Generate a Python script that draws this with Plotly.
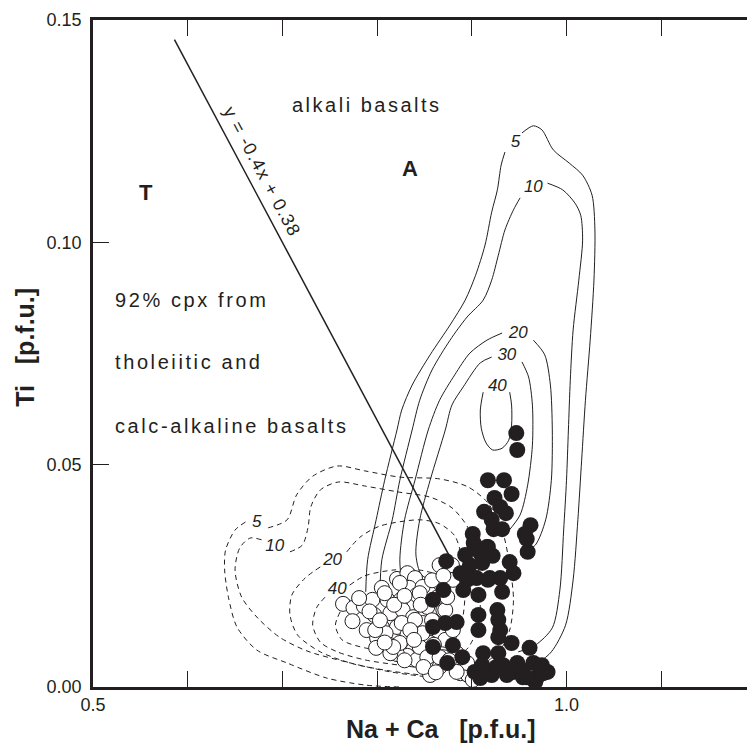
import plotly.graph_objects as go

INK = "#231f20"
FONT = "Liberation Sans, Arial, Helvetica, sans-serif"

# ---- Cpx from tholeiitic / calc-alkaline basalts (open circles) ----
thol_x = [0.764, 0.775, 0.774, 0.786, 0.795, 0.797, 0.805, 0.811, 0.821, 0.832,
          0.840, 0.834, 0.848, 0.825, 0.842, 0.864, 0.814, 0.827, 0.838, 0.851,
          0.870, 0.789, 0.805, 0.821, 0.835, 0.848, 0.800, 0.809, 0.832, 0.842,
          0.866, 0.814, 0.827, 0.838, 0.856, 0.799, 0.832, 0.842, 0.874, 0.870,
          0.884, 0.821, 0.845, 0.866, 0.866, 0.879, 0.808, 0.824, 0.845, 0.872,
          0.826, 0.840, 0.848, 0.824, 0.853, 0.872, 0.884, 0.888, 0.896, 0.866,
          0.814, 0.874, 0.880, 0.853, 0.880, 0.866, 0.880, 0.895, 0.884, 0.901,
          0.817, 0.835, 0.798, 0.856, 0.839, 0.781, 0.792, 0.803, 0.818, 0.829,
          0.846, 0.858, 0.860, 0.849, 0.862, 0.876, 0.829, 0.808, 0.858, 0.870]
thol_y = [0.0187, 0.0178, 0.0148, 0.0182, 0.0196, 0.0162, 0.0223, 0.0196, 0.0243, 0.0256,
          0.0245, 0.0223, 0.0225, 0.0196, 0.0207, 0.0202, 0.0166, 0.0173, 0.0157, 0.0173,
          0.0173, 0.0128, 0.0135, 0.0135, 0.0135, 0.0144, 0.0110, 0.0121, 0.0117, 0.0112,
          0.0121, 0.0094, 0.0090, 0.0083, 0.0099, 0.0088, 0.0070, 0.0061, 0.0090, 0.0067,
          0.0076, 0.0074, 0.0090, 0.0234, 0.0274, 0.0274, 0.0211, 0.0234, 0.0211, 0.0173,
          0.0144, 0.0151, 0.0121, 0.0099, 0.0067, 0.0106, 0.0045, 0.0031, 0.0027, 0.0045,
          0.0076, 0.0202, 0.0241, 0.0180, 0.0128, 0.0067, 0.0061, 0.0054, 0.0034, 0.0016,
          0.0090, 0.0128, 0.0128, 0.0027, 0.0106, 0.0200, 0.0170, 0.0150, 0.0185, 0.0205,
          0.0185, 0.0150, 0.0095, 0.0045, 0.0033, 0.0060, 0.0060, 0.0100, 0.0240, 0.0250]

# ---- Cpx from alkali basalts (filled circles) ----
alk_x = [0.947, 0.948, 0.917, 0.934, 0.942, 0.924, 0.930, 0.936, 0.913, 0.921,
         0.923, 0.932, 0.962, 0.956, 0.958, 0.959, 0.901, 0.902, 0.917, 0.909,
         0.922, 0.893, 0.873, 0.903, 0.916, 0.898, 0.911, 0.940, 0.944, 0.888,
         0.895, 0.905, 0.919, 0.930, 0.891, 0.907, 0.932, 0.870, 0.859, 0.927,
         0.928, 0.907, 0.859, 0.872, 0.884, 0.907, 0.930, 0.859, 0.880, 0.890,
         0.912, 0.928, 0.942, 0.961, 0.903, 0.921, 0.911, 0.933, 0.948, 0.953,
         0.965, 0.974, 0.980, 0.969, 0.967, 0.944, 0.954, 0.975, 0.874, 0.926,
         0.909, 0.958, 0.937, 0.928, 0.917]
alk_y = [0.0571, 0.0533, 0.0465, 0.0465, 0.0434, 0.0425, 0.0405, 0.0391, 0.0394, 0.0376,
         0.0355, 0.0355, 0.0364, 0.0344, 0.0333, 0.0304, 0.0344, 0.0324, 0.0315, 0.0301,
         0.0295, 0.0297, 0.0283, 0.0315, 0.0315, 0.0274, 0.0279, 0.0281, 0.0256, 0.0256,
         0.0241, 0.0245, 0.0245, 0.0245, 0.0218, 0.0207, 0.0214, 0.0218, 0.0196, 0.0173,
         0.0151, 0.0162, 0.0135, 0.0144, 0.0146, 0.0128, 0.0128, 0.0090, 0.0094, 0.0067,
         0.0076, 0.0076, 0.0099, 0.0088, 0.0034, 0.0027, 0.0049, 0.0049, 0.0054, 0.0038,
         0.0054, 0.0049, 0.0034, 0.0022, 0.0011, 0.0034, 0.0022, 0.0031, 0.0054, 0.0045,
         0.0020, 0.0022, 0.0027, 0.0112, 0.0241]

# ---- discriminant line y = -0.4x + 0.38 ----
line_slope = -0.4
line_icept = 0.38
line_x = [0.586, 0.877]
line_y = [line_slope * v + line_icept for v in line_x]

# ---- density contours, alkali basalt cpx (solid) ----
alk5_x = [0.788, 0.790, 0.799, 0.808, 0.821, 0.826, 0.837, 0.856, 0.877, 0.893, 0.904, 0.914, 0.921, 0.927, 0.931, 0.935, None,
          0.953, 0.965, 0.974, 0.986, 1.003, 1.017, 1.027, 1.030, 1.029, 1.025, 1.020, 1.016, 1.012, 1.007, 0.999, 0.984, 0.967]
alk5_y = [0.0214, 0.0286, 0.0376, 0.0465, 0.0578, 0.0623, 0.0679, 0.0747, 0.0814, 0.0870, 0.0926, 0.0994, 0.1068, 0.1118, 0.1174, 0.1203, None,
          0.1246, 0.1262, 0.1253, 0.1208, 0.1178, 0.1151, 0.1106, 0.1028, 0.0915, 0.0780, 0.0645, 0.0510, 0.0376, 0.0241, 0.0139, 0.0079, 0.0049]
alk10_x = [0.803, 0.805, 0.816, 0.824, 0.837, 0.845, 0.858, 0.877, 0.895, 0.912, 0.921, 0.928, 0.935, 0.944, 0.951, None,
           0.980, 0.996, 1.009, 1.015, 1.017, 1.013, 1.007, 1.004, 1.002, 1.000, 0.997, 0.993, 0.985, 0.967, 0.949]
alk10_y = [0.0214, 0.0286, 0.0376, 0.0465, 0.0578, 0.0645, 0.0713, 0.0780, 0.0832, 0.0870, 0.0915, 0.0971, 0.1028, 0.1073, 0.1100, None,
           0.1133, 0.1118, 0.1088, 0.1061, 0.1005, 0.0915, 0.0803, 0.0690, 0.0578, 0.0465, 0.0353, 0.0218, 0.0133, 0.0094, 0.0079]
alk20_x = [0.827, 0.824, 0.829, 0.840, 0.854, 0.866, 0.882, 0.898, 0.916, 0.932, None,
           0.965, 0.977, 0.983, 0.985, 0.984, 0.978, 0.967, 0.951]
alk20_y = [0.0218, 0.0286, 0.0376, 0.0465, 0.0578, 0.0645, 0.0702, 0.0751, 0.0780, 0.0796, None,
           0.0780, 0.0747, 0.0679, 0.0578, 0.0465, 0.0376, 0.0319, 0.0297]
alk30_x = [0.866, 0.847, 0.841, 0.845, 0.856, 0.872, 0.879, 0.891, 0.909, 0.921, None,
           0.953, 0.960, 0.964, 0.964, 0.959, 0.951, 0.938]
alk30_y = [0.0234, 0.0252, 0.0297, 0.0376, 0.0465, 0.0578, 0.0634, 0.0675, 0.0729, 0.0742, None,
           0.0731, 0.0697, 0.0634, 0.0544, 0.0454, 0.0387, 0.0349]
alk40_x = [0.940, 0.942, 0.942, 0.939, 0.932, 0.922, 0.915, 0.910, 0.909, 0.912]
alk40_y = [0.0663, 0.0634, 0.0589, 0.0555, 0.0537, 0.0533, 0.0549, 0.0582, 0.0623, 0.0663]

# ---- density contours, tholeiitic / calc-alkaline cpx (dashed) ----
thol5_x = [0.661, 0.650, 0.640, 0.639, 0.643, 0.652, 0.673, 0.705, 0.747, 0.789, 0.824, None,
           0.685, 0.705, 0.715, 0.732, 0.758, 0.787, 0.824, 0.866, 0.896, 0.917, 0.932, 0.940, 0.944, 0.940, 0.930, 0.911]
thol5_y = [0.0371, 0.0353, 0.0308, 0.0263, 0.0202, 0.0135, 0.0083, 0.0054, 0.0020, 0.0004, 0.0000, None,
           0.0358, 0.0376, 0.0432, 0.0474, 0.0497, 0.0486, 0.0472, 0.0468, 0.0450, 0.0414, 0.0353, 0.0274, 0.0196, 0.0128, 0.0083, 0.0049]
thol10_x = [0.678, 0.666, 0.655, 0.650, 0.657, 0.674, 0.697, 0.726, 0.768, 0.814, 0.856, None,
            0.708, 0.721, 0.727, 0.730, 0.740, 0.759, 0.787, 0.824, 0.856, 0.879, 0.896, 0.905, 0.909, 0.907, 0.896, 0.877]
thol10_y = [0.0331, 0.0335, 0.0313, 0.0263, 0.0202, 0.0155, 0.0112, 0.0081, 0.0056, 0.0034, 0.0022, None,
            0.0304, 0.0319, 0.0358, 0.0405, 0.0443, 0.0461, 0.0452, 0.0438, 0.0427, 0.0403, 0.0358, 0.0290, 0.0207, 0.0139, 0.0088, 0.0056]
thol20_x = [0.740, 0.724, 0.710, 0.708, 0.716, 0.740, 0.775, 0.814, 0.866, None,
            0.768, 0.782, 0.803, 0.845, 0.866, 0.882, 0.890, 0.893, 0.890, 0.882, 0.866]
thol20_y = [0.0270, 0.0245, 0.0207, 0.0162, 0.0117, 0.0079, 0.0052, 0.0036, 0.0022, None,
            0.0304, 0.0337, 0.0362, 0.0376, 0.0367, 0.0340, 0.0286, 0.0218, 0.0151, 0.0106, 0.0072]
thol40_x = [0.745, 0.736, 0.732, 0.740, 0.758, 0.787, 0.824, 0.866, None,
            0.771, 0.787, 0.817, 0.845, 0.866]
thol40_y = [0.0202, 0.0178, 0.0139, 0.0101, 0.0079, 0.0061, 0.0049, 0.0038, None,
            0.0229, 0.0250, 0.0263, 0.0263, 0.0252]
thol60_x = [0.761, 0.756, 0.763, 0.787, 0.824]
thol60_y = [0.0169, 0.0139, 0.0106, 0.0088, 0.0079]

# ---- contour labels ----
alk_lab_x = [0.946, 0.965, 0.949, 0.937, 0.927]
alk_lab_y = [0.1223, 0.1122, 0.0794, 0.0744, 0.0675]
alk_lab_t = ["5", "10", "20", "30", "40"]
thol_lab_x = [0.673, 0.692, 0.753, 0.758, 0.772]
thol_lab_y = [0.0369, 0.0315, 0.0283, 0.0218, 0.0180]
thol_lab_t = ["5", "10", "20", "40", "60"]

# ---- axes ----
x_tickvals = [0.5, 0.6, 0.7, 0.8, 0.9, 1.0, 1.1]
x_ticktext = ["0.5", "", "", "", "", "1.0", ""]
y_tickvals = [0.0, 0.05, 0.10, 0.15]
y_ticktext = ["0.00", "0.05", "0.10", "0.15"]
x_range = [0.5, 1.1906]
y_range = [0.0, 0.15]

fig = go.Figure()

solid = dict(color=INK, width=1)
dashed = dict(color=INK, width=1, dash="5px,4px")
for cx, cy in [(alk5_x, alk5_y), (alk10_x, alk10_y), (alk20_x, alk20_y),
               (alk30_x, alk30_y), (alk40_x, alk40_y)]:
    fig.add_trace(go.Scatter(x=cx, y=cy, mode="lines", line=dict(solid, shape="spline", smoothing=0.8),
                             hoverinfo="skip", connectgaps=False))
for cx, cy in [(thol5_x, thol5_y), (thol10_x, thol10_y), (thol20_x, thol20_y),
               (thol40_x, thol40_y), (thol60_x, thol60_y)]:
    fig.add_trace(go.Scatter(x=cx, y=cy, mode="lines", line=dict(dashed, shape="spline", smoothing=0.8),
                             hoverinfo="skip", connectgaps=False))

labfont = dict(family=FONT, size=17, color=INK, style="italic")
fig.add_trace(go.Scatter(x=alk_lab_x, y=alk_lab_y, text=alk_lab_t, mode="text",
                         textfont=labfont, hoverinfo="skip"))
fig.add_trace(go.Scatter(x=thol_lab_x, y=thol_lab_y, text=thol_lab_t, mode="text",
                         textfont=labfont, hoverinfo="skip"))

fig.add_trace(go.Scatter(x=line_x, y=line_y, mode="lines",
                         line=dict(color=INK, width=1.5), hoverinfo="skip"))

fig.add_trace(go.Scatter(x=thol_x, y=thol_y, mode="markers", cliponaxis=False,
                         marker=dict(size=15, color="white", line=dict(color=INK, width=1))))
fig.add_trace(go.Scatter(x=alk_x, y=alk_y, mode="markers", cliponaxis=False,
                         marker=dict(size=16, color=INK, line=dict(width=0))))


def spaced(t, ls):
    return '<span style="letter-spacing:%spx">%s</span>' % (ls, t)


body = dict(family=FONT, size=20, color=INK)
bold = dict(family=FONT, size=22, color=INK, weight="bold")
ann = [
    dict(x=0.789, y=0.1309, text=spaced("alkali basalts", 2.5), xanchor="center", font=body),
    dict(x=0.835, y=0.1167, text="A", xanchor="center", font=bold),
    dict(x=0.556, y=0.1113, text="T", xanchor="center", font=bold),
    dict(x=0.521, y=0.0870, text=spaced("92% cpx from", 2.6), xanchor="left", font=body),
    dict(x=0.521, y=0.0731, text=spaced("tholeiitic and", 2.6), xanchor="left", font=body),
    dict(x=0.521, y=0.0587, text=spaced("calc-alkaline basalts", 2.6), xanchor="left", font=body),
    dict(x=0.678, y=0.1160, text=spaced("y = -0.4x + 0.38", 1.2), textangle=62, xanchor="center",
         font=dict(family=FONT, size=18, color=INK)),
]
for a in ann:
    a.update(xref="x", yref="y", showarrow=False, yanchor="middle")

ann += [
    dict(xref="paper", yref="paper", x=0.532, y=-0.063, text="Na + Ca   [p.f.u.]",
         showarrow=False, xanchor="center", yanchor="middle",
         font=dict(family=FONT, size=25, color=INK, weight="bold")),
    dict(xref="paper", yref="paper", x=-0.104, y=0.510, text="Ti   [p.f.u.]", textangle=-90,
         showarrow=False, xanchor="center", yanchor="middle",
         font=dict(family=FONT, size=25, color=INK, weight="bold")),
]

axis_common = dict(showline=True, linewidth=2.5, linecolor=INK, ticks="inside", ticklen=16,
                   tickwidth=1, tickcolor=INK, showgrid=False, zeroline=False,
                   tickfont=dict(family=FONT, size=18, color=INK), automargin=False)

fig.update_layout(
    width=747, height=743,
    margin=dict(l=93, r=0, t=20, b=56),
    paper_bgcolor="white", plot_bgcolor="white",
    showlegend=False, hovermode=False,
    annotations=ann,
    xaxis=dict(axis_common, range=x_range, tickmode="array", tickvals=x_tickvals,
               ticktext=x_ticktext, mirror="ticks", ticklabelstandoff=0),
    yaxis=dict(axis_common, range=y_range, tickmode="array", tickvals=y_tickvals,
               ticktext=y_ticktext, mirror=False, ticklabelstandoff=5),
)

fig.write_html("out.html", config={"displayModeBar": False},
               post_script="document.body.style.margin='0';document.body.style.overflow='hidden';")
